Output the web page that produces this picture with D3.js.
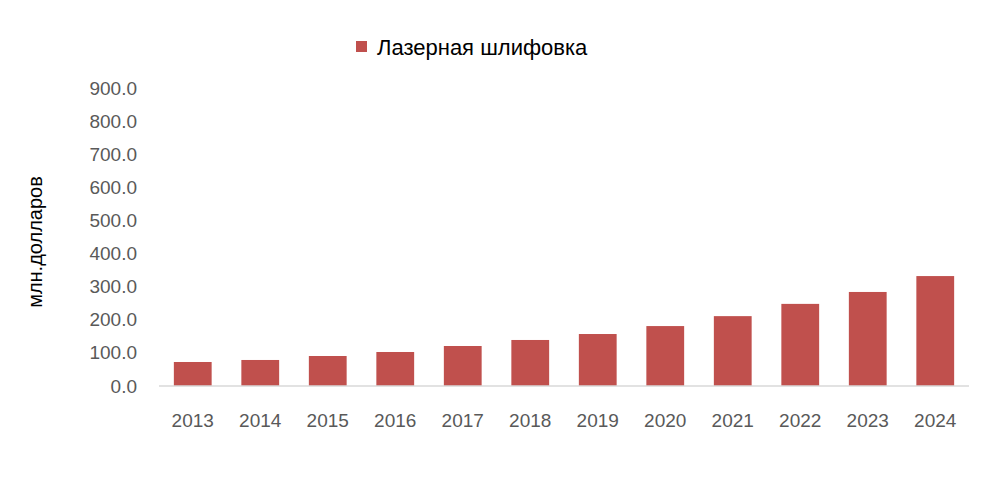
<!DOCTYPE html>
<html>
<head>
<meta charset="utf-8">
<script src="https://cdn.jsdelivr.net/npm/d3@7"></script>
<style>
  body { margin: 0; background: #fff; }
  text { font-family: "Liberation Sans", Arial, sans-serif; }
</style>
</head>
<body>
<div id="chart"></div>
<script>
const years = ['2013', '2014', '2015', '2016', '2017', '2018', '2019', '2020', '2021', '2022', '2023', '2024'];
const values = [72.5, 78.6, 90.6, 102.7, 120.8, 139, 157, 181, 211, 248, 284, 332];
const yTicks = [0, 100, 200, 300, 400, 500, 600, 700, 800, 900];
const seriesName = 'Лазерная шлифовка';
const yTitle = 'млн.долларов';

const width = 1000, height = 500;
const margins = { top: 88, right: 31, bottom: 114, left: 159 };
const boundedWidth = width - margins.left - margins.right;
const boundedHeight = height - margins.top - margins.bottom;

const svg = d3.select('#chart').append('svg')
  .attr('width', width).attr('height', height);

const bounds = svg.append('g')
  .attr('transform', `translate(${margins.left},${margins.top})`);

const xScale = d3.scaleBand().domain(years).range([0, boundedWidth]).paddingInner(0.44).paddingOuter(0.22);
const yScale = d3.scaleLinear().domain([0, 900]).range([boundedHeight, 0]);

bounds.selectAll('rect.bar').data(values).join('rect')
  .attr('class', 'bar')
  .attr('x', (d, i) => xScale(years[i]))
  .attr('y', d => yScale(d))
  .attr('width', xScale.bandwidth())
  .attr('height', d => boundedHeight - yScale(d))
  .attr('fill', '#c0504d');

// baseline
bounds.append('line')
  .attr('x1', 0).attr('x2', boundedWidth)
  .attr('y1', boundedHeight).attr('y2', boundedHeight)
  .attr('stroke', '#d9d9d9').attr('stroke-width', 1.5);

// y axis
const yAxis = bounds.append('g')
  .call(d3.axisLeft(yScale).tickValues(yTicks).tickFormat(d3.format('.1f')).tickSize(0).tickPadding(22));
yAxis.select('.domain').remove();
yAxis.selectAll('text').attr('fill', '#595959').style('font-size', '19px');

// x axis
const xAxis = bounds.append('g')
  .attr('transform', `translate(0,${boundedHeight})`)
  .call(d3.axisBottom(xScale).tickSize(0).tickPadding(28));
xAxis.select('.domain').remove();
xAxis.selectAll('text').attr('fill', '#595959').style('font-size', '19px');

// y title
svg.append('text')
  .attr('transform', `translate(42,${margins.top + boundedHeight / 2 + 5}) rotate(-90)`)
  .attr('text-anchor', 'middle')
  .attr('fill', '#000')
  .style('font-size', '20px')
  .text(yTitle);

// legend
svg.append('rect')
  .attr('x', 356).attr('y', 41).attr('width', 11).attr('height', 11)
  .attr('fill', '#c0504d');
svg.append('text')
  .attr('x', 377).attr('y', 55)
  .attr('fill', '#000')
  .style('font-size', '22px')
  .text(seriesName);
</script>
</body>
</html>
